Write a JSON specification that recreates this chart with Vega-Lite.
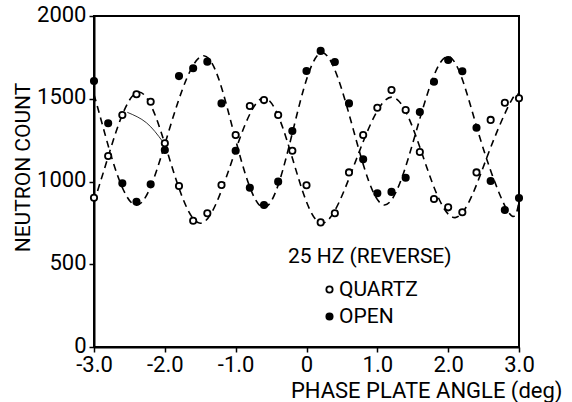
{
  "$schema": "https://vega.github.io/schema/vega-lite/v6.json",
  "width": 425,
  "height": 331,
  "autosize": {"type": "none"},
  "padding": {"left": 94, "top": 16, "right": 53, "bottom": 55},
  "background": "white",
  "config": {
    "font": "Roboto, Liberation Sans Narrow, sans-serif",
    "view": {"stroke": "black", "strokeWidth": 2},
    "axis": {
      "domainColor": "black",
      "domainWidth": 2,
      "tickColor": "black",
      "tickWidth": 1.5,
      "tickSize": 5,
      "grid": false,
      "labelColor": "black",
      "labelFontSize": 22,
      "titleColor": "black",
      "titleFontWeight": "normal"
    }
  },
  "datasets": {
    "points": [
      {"angle": -3.0, "count": 1607, "series": "OPEN"},
      {"angle": -2.8, "count": 1352, "series": "OPEN"},
      {"angle": -2.6, "count": 989, "series": "OPEN"},
      {"angle": -2.4, "count": 878, "series": "OPEN"},
      {"angle": -2.2, "count": 983, "series": "OPEN"},
      {"angle": -2.0, "count": 1190, "series": "OPEN"},
      {"angle": -1.8, "count": 1637, "series": "OPEN"},
      {"angle": -1.6, "count": 1684, "series": "OPEN"},
      {"angle": -1.4, "count": 1724, "series": "OPEN"},
      {"angle": -1.2, "count": 1472, "series": "OPEN"},
      {"angle": -1.0, "count": 1186, "series": "OPEN"},
      {"angle": -0.8, "count": 962, "series": "OPEN"},
      {"angle": -0.6, "count": 858, "series": "OPEN"},
      {"angle": -0.4, "count": 999, "series": "OPEN"},
      {"angle": -0.2, "count": 1305, "series": "OPEN"},
      {"angle": 0.0, "count": 1668, "series": "OPEN"},
      {"angle": 0.2, "count": 1789, "series": "OPEN"},
      {"angle": 0.4, "count": 1722, "series": "OPEN"},
      {"angle": 0.6, "count": 1472, "series": "OPEN"},
      {"angle": 0.8, "count": 1134, "series": "OPEN"},
      {"angle": 1.0, "count": 929, "series": "OPEN"},
      {"angle": 1.2, "count": 937, "series": "OPEN"},
      {"angle": 1.4, "count": 1023, "series": "OPEN"},
      {"angle": 1.6, "count": 1420, "series": "OPEN"},
      {"angle": 1.8, "count": 1603, "series": "OPEN"},
      {"angle": 2.0, "count": 1734, "series": "OPEN"},
      {"angle": 2.2, "count": 1666, "series": "OPEN"},
      {"angle": 2.4, "count": 1325, "series": "OPEN"},
      {"angle": 2.6, "count": 1003, "series": "OPEN"},
      {"angle": 2.8, "count": 828, "series": "OPEN"},
      {"angle": 3.0, "count": 900, "series": "OPEN"},
      {"angle": -3.0, "count": 902, "series": "QUARTZ"},
      {"angle": -2.8, "count": 1154, "series": "QUARTZ"},
      {"angle": -2.6, "count": 1402, "series": "QUARTZ"},
      {"angle": -2.4, "count": 1527, "series": "QUARTZ"},
      {"angle": -2.2, "count": 1482, "series": "QUARTZ"},
      {"angle": -2.0, "count": 1231, "series": "QUARTZ"},
      {"angle": -1.8, "count": 973, "series": "QUARTZ"},
      {"angle": -1.6, "count": 763, "series": "QUARTZ"},
      {"angle": -1.4, "count": 808, "series": "QUARTZ"},
      {"angle": -1.2, "count": 979, "series": "QUARTZ"},
      {"angle": -1.0, "count": 1281, "series": "QUARTZ"},
      {"angle": -0.8, "count": 1456, "series": "QUARTZ"},
      {"angle": -0.6, "count": 1492, "series": "QUARTZ"},
      {"angle": -0.4, "count": 1402, "series": "QUARTZ"},
      {"angle": -0.2, "count": 1186, "series": "QUARTZ"},
      {"angle": 0.0, "count": 977, "series": "QUARTZ"},
      {"angle": 0.2, "count": 753, "series": "QUARTZ"},
      {"angle": 0.4, "count": 808, "series": "QUARTZ"},
      {"angle": 0.6, "count": 1055, "series": "QUARTZ"},
      {"angle": 0.8, "count": 1281, "series": "QUARTZ"},
      {"angle": 1.0, "count": 1446, "series": "QUARTZ"},
      {"angle": 1.2, "count": 1553, "series": "QUARTZ"},
      {"angle": 1.4, "count": 1432, "series": "QUARTZ"},
      {"angle": 1.6, "count": 1178, "series": "QUARTZ"},
      {"angle": 1.8, "count": 894, "series": "QUARTZ"},
      {"angle": 2.0, "count": 844, "series": "QUARTZ"},
      {"angle": 2.2, "count": 814, "series": "QUARTZ"},
      {"angle": 2.4, "count": 1055, "series": "QUARTZ"},
      {"angle": 2.6, "count": 1372, "series": "QUARTZ"},
      {"angle": 2.8, "count": 1476, "series": "QUARTZ"},
      {"angle": 3.0, "count": 1503, "series": "QUARTZ"}
    ],
    "curves": [
      {"angle": -3.0, "count": 1525, "series": "OPEN"},
      {"angle": -2.86, "count": 1310, "series": "OPEN"},
      {"angle": -2.42, "count": 858, "series": "OPEN"},
      {"angle": -1.94, "count": 1310, "series": "OPEN"},
      {"angle": -1.45, "count": 1760, "series": "OPEN"},
      {"angle": -1.03, "count": 1300, "series": "OPEN"},
      {"angle": -0.6, "count": 842, "series": "OPEN"},
      {"angle": -0.19, "count": 1310, "series": "OPEN"},
      {"angle": 0.22, "count": 1778, "series": "OPEN"},
      {"angle": 0.66, "count": 1315, "series": "OPEN"},
      {"angle": 1.1, "count": 858, "series": "OPEN"},
      {"angle": 1.55, "count": 1305, "series": "OPEN"},
      {"angle": 2.0, "count": 1755, "series": "OPEN"},
      {"angle": 2.43, "count": 1290, "series": "OPEN"},
      {"angle": 2.85, "count": 815, "series": "OPEN"},
      {"angle": 3.0, "count": 880, "series": "OPEN"},
      {"angle": -3.0, "count": 875, "series": "QUARTZ"},
      {"angle": -2.8, "count": 1150, "series": "QUARTZ"},
      {"angle": -2.38, "count": 1540, "series": "QUARTZ"},
      {"angle": -1.94, "count": 1145, "series": "QUARTZ"},
      {"angle": -1.5, "count": 748, "series": "QUARTZ"},
      {"angle": -1.05, "count": 1128, "series": "QUARTZ"},
      {"angle": -0.6, "count": 1505, "series": "QUARTZ"},
      {"angle": -0.19, "count": 1128, "series": "QUARTZ"},
      {"angle": 0.22, "count": 748, "series": "QUARTZ"},
      {"angle": 0.7, "count": 1130, "series": "QUARTZ"},
      {"angle": 1.2, "count": 1510, "series": "QUARTZ"},
      {"angle": 1.65, "count": 1145, "series": "QUARTZ"},
      {"angle": 2.1, "count": 782, "series": "QUARTZ"},
      {"angle": 2.55, "count": 1150, "series": "QUARTZ"},
      {"angle": 2.9, "count": 1495, "series": "QUARTZ"},
      {"angle": 3.0, "count": 1510, "series": "QUARTZ"}
    ],
    "stray": [
      {"angle": -2.53, "count": 1418},
      {"angle": -2.26, "count": 1355},
      {"angle": -2.03, "count": 1241}
    ]
  },
  "encoding": {
    "x": {
      "field": "angle",
      "type": "quantitative",
      "scale": {"domain": [-3, 3], "nice": false, "zero": false},
      "axis": {
        "values": [-3, -2, -1, 0, 1, 2, 3],
        "labelExpr": "datum.value == 0 ? '0' : (datum.value < 0 ? '-' : '') + format(abs(datum.value), '.1f')",
        "labelPadding": 2,
        "labelFlush": false,
        "title": "PHASE PLATE ANGLE (deg)",
        "titleFontSize": 22,
        "titleAlign": "right",
        "titleAnchor": null,
        "titleX": 468,
        "titleY": 50,
        "titleBaseline": "alphabetic"
      }
    },
    "y": {
      "field": "count",
      "type": "quantitative",
      "scale": {"domain": [0, 2000], "nice": false},
      "axis": {
        "values": [0, 500, 1000, 1500, 2000],
        "format": "d",
        "labelPadding": 3,
        "labelOffset": -2,
        "title": "NEUTRON COUNT",
        "titleFontSize": 21,
        "titleAngle": -90,
        "titleAlign": "center",
        "titleBaseline": "middle",
        "titleX": -71,
        "titleY": 151
      }
    }
  },
  "layer": [
    {
      "data": {"name": "curves"},
      "mark": {"type": "line", "interpolate": "natural", "strokeDash": [7, 5], "strokeWidth": 1.6, "color": "black"},
      "encoding": {"detail": {"field": "series", "type": "nominal"}}
    },
    {
      "data": {"name": "stray"},
      "mark": {"type": "line", "interpolate": "natural", "strokeWidth": 0.8, "color": "black"},
      "encoding": {}
    },
    {
      "data": {"name": "points"},
      "mark": {"type": "point", "shape": "circle", "filled": true, "size": 40, "stroke": "black", "strokeWidth": 1.8, "opacity": 1},
      "encoding": {
        "fill": {
          "field": "series",
          "type": "nominal",
          "scale": {"domain": ["QUARTZ", "OPEN"], "range": ["white", "black"]},
          "legend": {
            "orient": "none",
            "legendX": 194,
            "legendY": 230,
            "title": "25 HZ (REVERSE)",
            "titleFontSize": 21,
            "titleFontWeight": "normal",
            "titleColor": "black",
            "titleLimit": 400,
            "titlePadding": 12,
            "labelFontSize": 21,
            "labelColor": "black",
            "labelOffset": -1,
            "symbolType": "circle",
            "symbolStrokeColor": "black",
            "symbolStrokeWidth": 1.8,
            "symbolSize": 40,
            "symbolOffset": 31,
            "rowPadding": 5,
            "padding": 0
          }
        }
      }
    }
  ]
}
